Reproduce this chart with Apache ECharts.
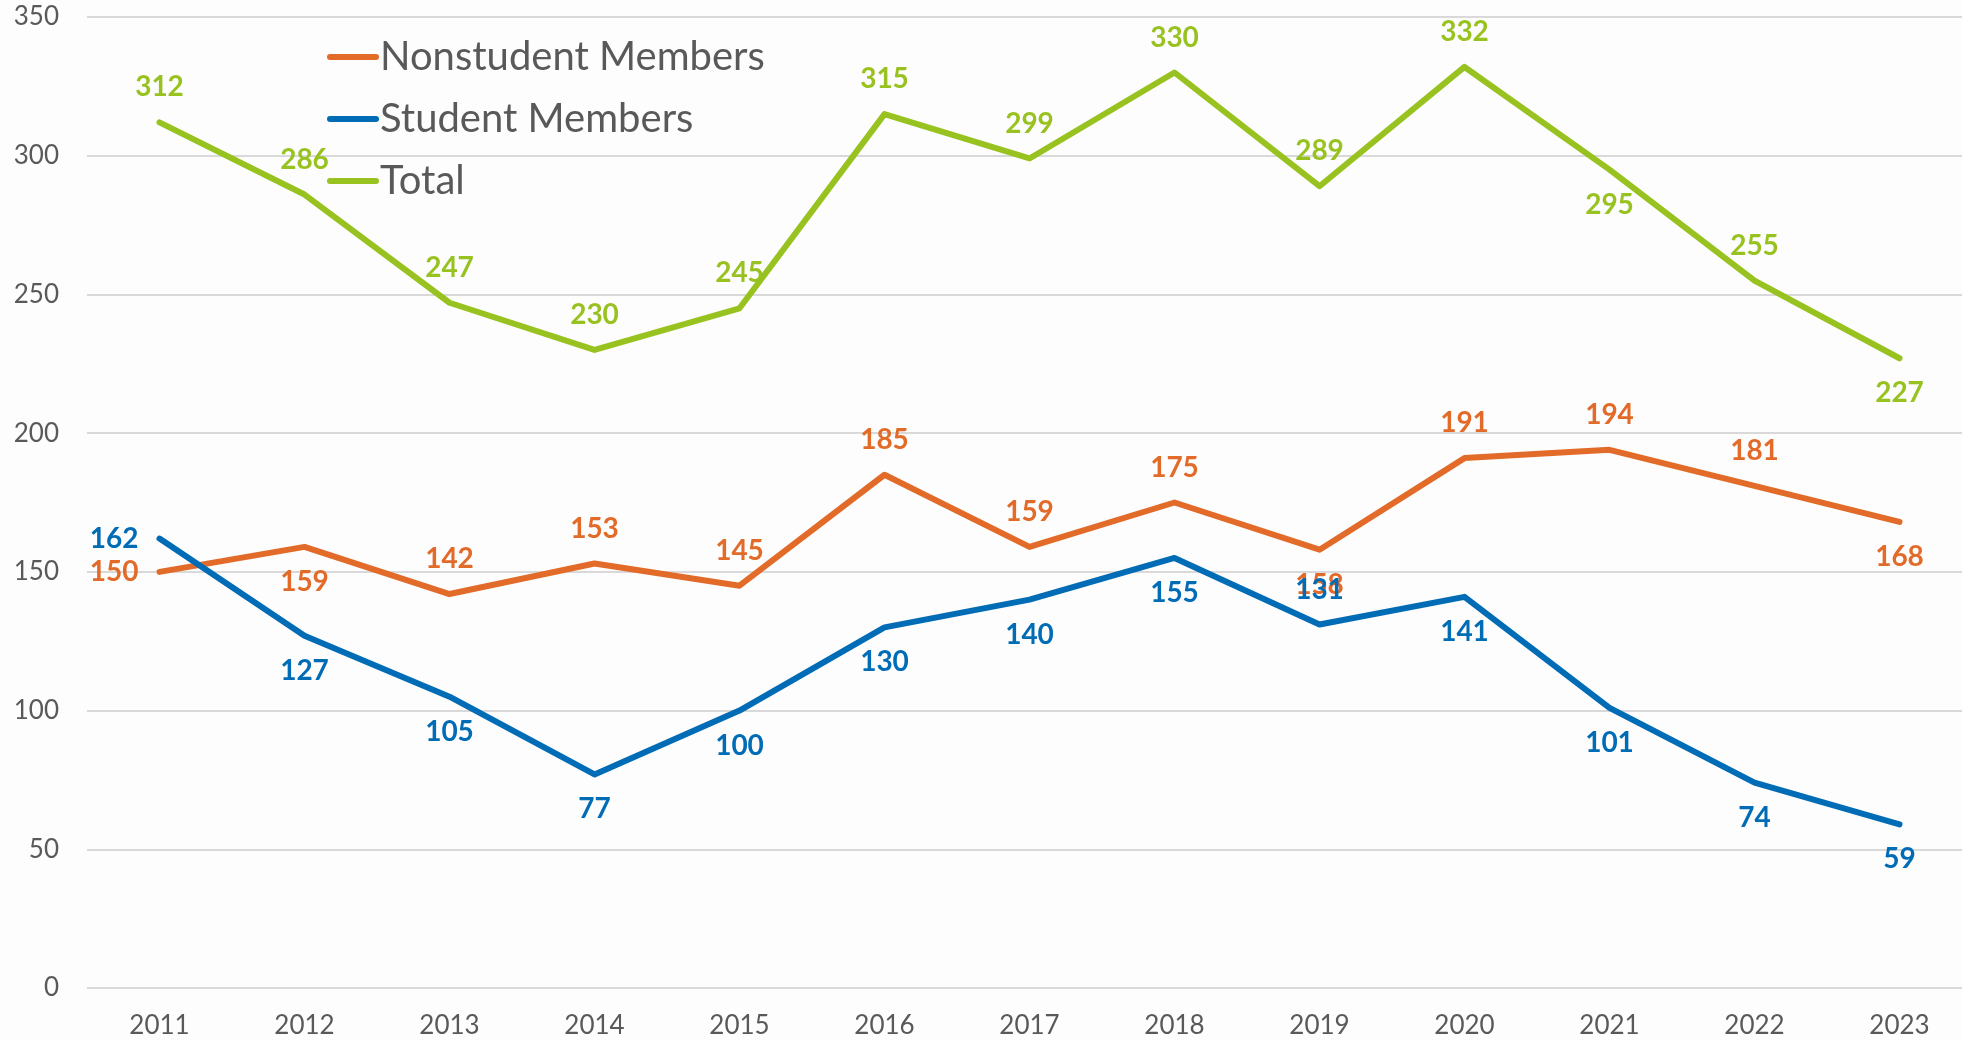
<!DOCTYPE html>
<html>
<head>
<meta charset="utf-8">
<style>
  html, body { margin: 0; padding: 0; background: #fdfdfd; }
  #cht { width: 1962px; height: 1040px; }
</style>
<script src="https://cdn.jsdelivr.net/npm/echarts@6/dist/echarts.min.js"></script>
</head>
<body>
<div id="cht"></div>
<script>
const years = ['2011', '2012', '2013', '2014', '2015', '2016', '2017', '2018', '2019', '2020', '2021', '2022', '2023'];
const nonstudent = [150, 159, 142, 153, 145, 185, 159, 175, 158, 191, 194, 181, 168];
const student = [162, 127, 105, 77, 100, 130, 140, 155, 131, 141, 101, 74, 59];
const total = [312, 286, 247, 230, 245, 315, 299, 330, 289, 332, 295, 255, 227];

// where each series puts its value labels (default first, then exceptions by year)
const labelSpots = {
  nonstudent: { def: 'top', '2011': 'left', '2012': 'bottom', '2019': 'bottom', '2023': 'bottom' },
  student: { def: 'bottom', '2011': 'left', '2019': 'top' },
  total: { def: 'top', '2021': 'bottom', '2023': 'bottom' },
};

const font = 'Lato';
const orange = '#e26b29';
const blue = '#006cb6';
const green = '#98c21f';

const cht = echarts.init(document.getElementById('cht'));
window.onresize = () => cht.resize();

function makeSeries(name, values, color, spots) {
  return {
    name,
    type: 'line',
    data: values.map((v, i) => ({
      value: v,
      label: { position: spots[years[i]] || spots.def },
    })),
    symbol: 'circle',
    symbolSize: 0,
    itemStyle: { color },
    lineStyle: { color, width: 6, cap: 'round', join: 'round' },
    label: {
      show: true,
      distance: 21,
      color,
      fontFamily: font,
      fontWeight: 'bold',
      fontSize: 28,
    },
    emphasis: { disabled: true },
    animation: false,
  };
}

const legendIcon = 'path://M3,0 L49,0 A3,3 0 0 1 49,6 L3,6 A3,3 0 0 1 3,0 Z';

const option = {
  backgroundColor: '#fdfdfd',
  grid: { left: 87, right: -10, top: 17, bottom: 52, outerBoundsMode: 'none' },
  legend: {
    orient: 'vertical',
    left: 322,
    top: 32,
    itemWidth: 52,
    itemHeight: 6,
    itemGap: 22,
    icon: legendIcon,
    textStyle: { fontFamily: font, fontSize: 40, color: '#595959', padding: [0, 0, 0, -4] },
    data: ['Nonstudent Members', 'Student Members', 'Total'],
  },
  xAxis: {
    type: 'category',
    data: years,
    boundaryGap: true,
    axisLine: { show: false },
    axisTick: { show: false },
    axisLabel: { fontFamily: font, fontSize: 26, color: '#595959', margin: 25 },
  },
  yAxis: {
    type: 'value',
    min: 0,
    max: 350,
    interval: 50,
    axisLabel: { fontFamily: font, fontSize: 26, color: '#595959', margin: 28 },
    splitLine: { lineStyle: { color: '#d9d9d9', width: 2 } },
  },
  series: [
    makeSeries('Nonstudent Members', nonstudent, orange, labelSpots.nonstudent),
    makeSeries('Student Members', student, blue, labelSpots.student),
    makeSeries('Total', total, green, labelSpots.total),
  ],
};

cht.setOption(option);
</script>
</body>
</html>
